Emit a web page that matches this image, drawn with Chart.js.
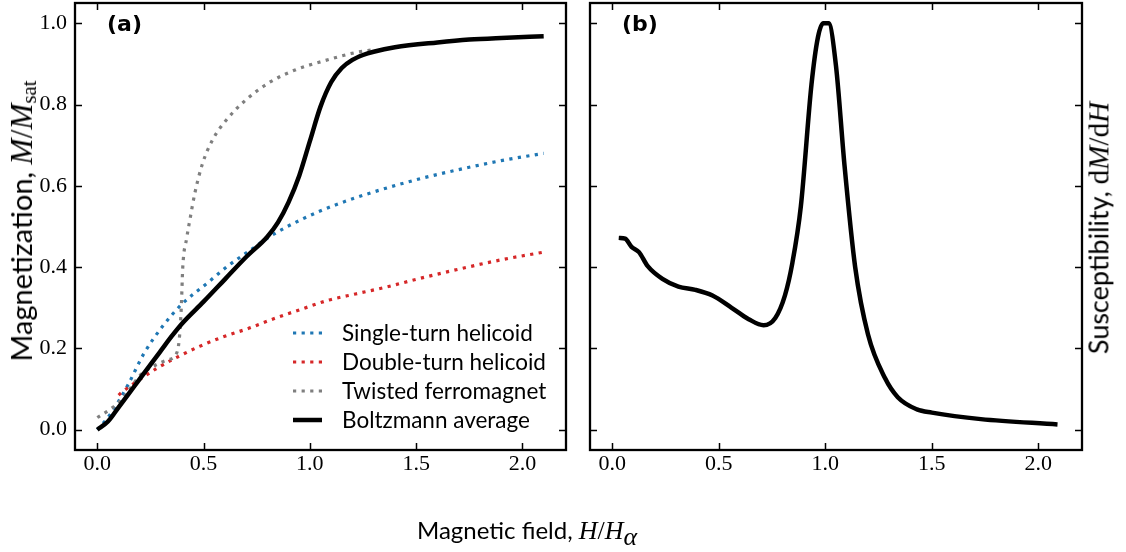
<!DOCTYPE html>
<html>
<head>
<meta charset="utf-8">
<script src="https://cdn.jsdelivr.net/npm/chart.js@4.4.1/dist/chart.umd.min.js"></script>
<style>
  body { margin: 0; background: #fff; }
  #wrap { position: relative; width: 1126px; height: 552px; overflow: hidden; }
  #wrap canvas { position: absolute; left: 0; top: 0; }
  .title {
    position: absolute; white-space: nowrap; color: #000;
    font-family: Lato, "Open Sans", sans-serif; font-size: 24px; line-height: 1;
    transform: translate(-50%, -50%);
  }
  .title.rot { transform: translate(-50%, -50%) rotate(-90deg); }
  .title .m { font-family: "Liberation Serif", serif; font-style: italic; font-size: 1.08em; }
  .title .r { font-family: "Liberation Serif", serif; font-size: 1.08em; }
  .title sub { font-family: "Liberation Serif", serif; font-size: 0.72em; vertical-align: -0.2em; }
</style>
</head>
<body>
<div id="wrap">
  <canvas id="magChart" width="1126" height="552"></canvas>
  <canvas id="suscChart" width="1126" height="552"></canvas>
  <div class="title rot" style="left:23px; top:221px; font-size:29px;">Magnetization, <span class="m">M</span><span class="r">/</span><span class="m">M</span><sub>sat</sub></div>
  <div class="title rot" style="left:1099px; top:228px; font-size:27px;">Susceptibility, <span class="r">d</span><span class="m">M</span><span class="r">/d</span><span class="m">H</span></div>
  <div class="title" style="left:527px; top:534px;">Magnetic field, <span class="m">H</span><span class="r">/</span><span class="m">H</span><sub class="m" style="font-style:italic">α</sub></div>
</div>
<script>
// tick positions shared by both panels
const xTicks = [0, 0.5, 1.0, 1.5, 2.0];
const yTicks = [0, 0.2, 0.4, 0.6, 0.8, 1.0];

// (a) magnetization curves
const hSingle = [0, 0.05, 0.1, 0.145, 0.22, 0.308, 0.4, 0.52, 0.62, 0.715, 0.82, 0.963, 1.12, 1.3, 1.5, 1.7, 1.9, 2.1];
const mSingle = [0, 0.03, 0.07, 0.111, 0.188, 0.255, 0.31, 0.362, 0.405, 0.44, 0.478, 0.518, 0.553, 0.585, 0.615, 0.64, 0.662, 0.68];

const hDouble = [0.1, 0.12, 0.187, 0.28, 0.374, 0.481, 0.59, 0.715, 0.84, 0.963, 1.09, 1.215, 1.36, 1.5, 1.7, 1.9, 2.1];
const mDouble = [0.085, 0.094, 0.119, 0.151, 0.178, 0.205, 0.228, 0.25, 0.275, 0.297, 0.319, 0.334, 0.351, 0.37, 0.395, 0.418, 0.437];

const hTwisted = [0, 0.06, 0.12, 0.2, 0.26, 0.33, 0.37, 0.385, 0.395, 0.402, 0.42, 0.435, 0.458, 0.495, 0.542, 0.607, 0.7, 0.808, 0.934, 1.056, 1.215, 1.3];
const mTwisted = [0.03, 0.05, 0.077, 0.133, 0.155, 0.172, 0.185, 0.22, 0.3, 0.4, 0.47, 0.515, 0.58, 0.655, 0.713, 0.762, 0.812, 0.854, 0.886, 0.906, 0.928, 0.935];

const hBoltz = [0, 0.05, 0.1, 0.15, 0.2, 0.25, 0.3, 0.35, 0.4, 0.5, 0.6, 0.7, 0.8, 0.85, 0.9, 0.95, 1.0, 1.05, 1.1, 1.15, 1.2, 1.25, 1.3, 1.4, 1.6, 1.75, 1.9, 2.1];
const mBoltz = [0, 0.02, 0.055, 0.09, 0.125, 0.16, 0.195, 0.23, 0.262, 0.315, 0.37, 0.425, 0.475, 0.51, 0.56, 0.625, 0.71, 0.795, 0.855, 0.89, 0.91, 0.922, 0.93, 0.941, 0.953, 0.96, 0.964, 0.968];

// (b) susceptibility of the Boltzmann average
const hSusc = [0.03, 0.06, 0.09, 0.125, 0.165, 0.235, 0.31, 0.39, 0.47, 0.56, 0.64, 0.71, 0.765, 0.81, 0.845, 0.885, 0.935, 0.965, 0.99, 1.015, 1.05, 1.09, 1.14, 1.2, 1.28, 1.34, 1.43, 1.5, 1.73, 2.09];
const chiSusc = [0.472, 0.47, 0.45, 0.437, 0.403, 0.371, 0.352, 0.344, 0.33, 0.3, 0.272, 0.257, 0.275, 0.33, 0.41, 0.55, 0.85, 0.965, 1.0, 1.0, 0.895, 0.65, 0.4, 0.235, 0.127, 0.08, 0.05, 0.042, 0.026, 0.013];

const toPoints = (xs, ys) => xs.map((x, i) => ({ x: x, y: ys[i] }));

const tickFont = { family: '"Liberation Serif", serif', size: 22 };

// frame + inward ticks on all four sides, plus the panel letter
const framePlugin = {
  id: 'frame',
  afterDraw(chart, args, opts) {
    const { ctx, chartArea: a, scales: { x, y } } = chart;
    ctx.save();
    ctx.strokeStyle = '#000';
    ctx.lineWidth = 1.5;
    ctx.beginPath();
    x.ticks.forEach(t => {
      const px = Math.round(x.getPixelForValue(t.value)) + 0.5;
      ctx.moveTo(px, a.bottom); ctx.lineTo(px, a.bottom - 7);
      ctx.moveTo(px, a.top); ctx.lineTo(px, a.top + 7);
    });
    y.ticks.forEach(t => {
      const py = Math.round(y.getPixelForValue(t.value)) + 0.5;
      ctx.moveTo(a.left, py); ctx.lineTo(a.left + 7, py);
      ctx.moveTo(a.right, py); ctx.lineTo(a.right - 7, py);
    });
    ctx.stroke();
    ctx.lineWidth = 2.3;
    ctx.strokeRect(a.left, a.top, a.right - a.left, a.bottom - a.top);
    ctx.fillStyle = '#000';
    ctx.font = 'bold 22px "DejaVu Sans", sans-serif';
    ctx.textBaseline = 'middle';
    ctx.textAlign = 'left';
    ctx.fillText(opts.label, a.left + 32, a.top + 22);
    ctx.restore();
  }
};

// legend in the lower right of panel (a)
const legendPlugin = {
  id: 'cornerLegend',
  afterDraw(chart) {
    const { ctx, chartArea: a } = chart;
    const rows = [117, 88, 59, 30];
    ctx.save();
    ctx.font = '22.5px Lato, "Open Sans", sans-serif';
    ctx.textBaseline = 'middle';
    ctx.fillStyle = '#000';
    chart.data.datasets.forEach((ds, i) => {
      const yy = a.bottom - rows[i];
      ctx.strokeStyle = ds.borderColor;
      ctx.lineWidth = ds.borderWidth;
      ctx.setLineDash(ds.borderDash || []);
      ctx.beginPath();
      ctx.moveTo(a.right - 273, yy);
      ctx.lineTo(a.right - 244, yy);
      ctx.stroke();
      ctx.setLineDash([]);
      ctx.fillText(ds.label, a.right - 224, yy + 1);
    });
    ctx.restore();
  }
};

// fixed axis boxes so both plot frames sit exactly where wanted
function panelOptions(padLeft, padRight, showYLabels, label) {
  const yBox = showYLabels ? 60 : 0;
  return {
    responsive: false,
    animation: false,
    layout: { padding: { left: padLeft - yBox, right: padRight, top: 3, bottom: 62 } },
    elements: { point: { radius: 0 } },
    plugins: { legend: { display: false }, tooltip: { enabled: false }, frame: { label: label } },
    scales: {
      x: {
        type: 'linear', min: -0.105, max: 2.205,
        afterFit: s => { s.height = 40; s.paddingLeft = 0; s.paddingRight = 0; },
        afterBuildTicks: s => { s.ticks = xTicks.map(v => ({ value: v })); },
        grid: { display: false, drawTicks: false },
        border: { display: false },
        ticks: { padding: 1, color: '#000', font: tickFont, autoSkip: false, maxRotation: 0, callback: v => v.toFixed(1) }
      },
      y: {
        type: 'linear', min: -0.05, max: 1.05,
        afterFit: s => { s.width = yBox; s.paddingTop = 0; s.paddingBottom = 0; },
        afterBuildTicks: s => { s.ticks = yTicks.map(v => ({ value: v })); },
        grid: { display: false, drawTicks: false },
        border: { display: false },
        ticks: { display: showYLabels, padding: 8, color: '#000', font: tickFont, callback: v => v.toFixed(1) }
      }
    }
  };
}

const dotted = [3.2, 5.4];

new Chart(document.getElementById('magChart'), {
  type: 'line',
  data: {
    datasets: [
      { label: 'Single-turn helicoid', data: toPoints(hSingle, mSingle), borderColor: '#1f77b4', borderWidth: 3.2, borderDash: dotted, cubicInterpolationMode: 'monotone', order: 3 },
      { label: 'Double-turn helicoid', data: toPoints(hDouble, mDouble), borderColor: '#d62728', borderWidth: 3.2, borderDash: dotted, cubicInterpolationMode: 'monotone', order: 2 },
      { label: 'Twisted ferromagnet', data: toPoints(hTwisted, mTwisted), borderColor: '#7f7f7f', borderWidth: 3.2, borderDash: dotted, cubicInterpolationMode: 'monotone', order: 1 },
      { label: 'Boltzmann average', data: toPoints(hBoltz, mBoltz), borderColor: '#000', borderWidth: 4.5, cubicInterpolationMode: 'monotone', order: 0 }
    ]
  },
  options: panelOptions(75, 560, true, '(a)'),
  plugins: [framePlugin, legendPlugin]
});

new Chart(document.getElementById('suscChart'), {
  type: 'line',
  data: {
    datasets: [
      { label: 'dM/dH', data: toPoints(hSusc, chiSusc), borderColor: '#000', borderWidth: 4.5, cubicInterpolationMode: 'monotone' }
    ]
  },
  options: panelOptions(590, 44, false, '(b)'),
  plugins: [framePlugin]
});
</script>
</body>
</html>
